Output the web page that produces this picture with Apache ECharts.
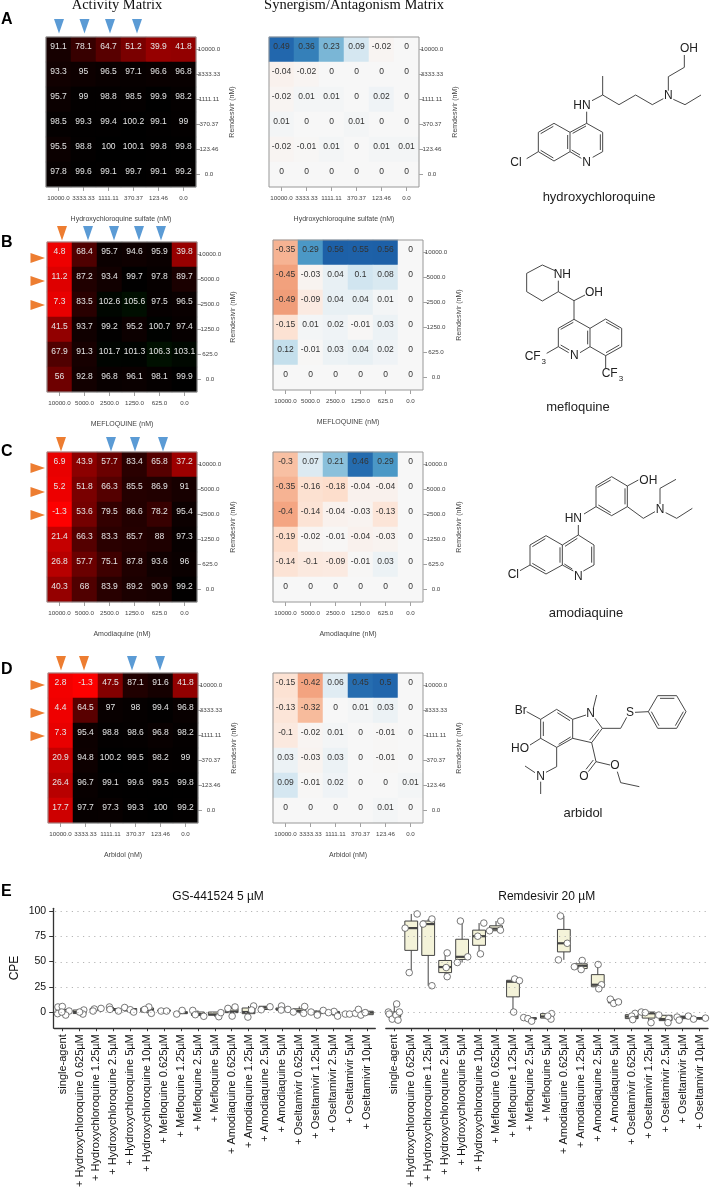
<!DOCTYPE html>
<html><head><meta charset="utf-8">
<style>html,body{margin:0;padding:0;background:#fff}#c{width:713px;height:1190px}</style>
<script src="https://cdn.jsdelivr.net/npm/echarts@6/dist/echarts.min.js"></script>
</head><body><div id="c"></div>
<script>
const dosesRem3 = ['10000.0','3333.33','1111.11','370.37','123.46','0.0'];
const dosesMef = ['10000.0','5000.0','2500.0','1250.0','625.0','0.0'];

const activityA = [[91.1,78.1,64.7,51.2,39.9,41.8],[93.3,95,96.5,97.1,96.6,96.8],[95.7,99,98.8,98.5,99.9,98.2],[98.5,99.3,99.4,100.2,99.1,99],[95.5,98.8,100,100.1,99.8,99.8],[97.8,99.6,99.1,99.7,99.1,99.2]];
const synergyA = [[0.49,0.36,0.23,0.09,-0.02,0],[-0.04,-0.02,0,0,0,0],[-0.02,0.01,0.01,0,0.02,0],[0.01,0,0,0.01,0,0],[-0.02,-0.01,0.01,0,0.01,0.01],[0,0,0,0,0,0]];
const activityB = [[4.8,68.4,95.7,94.6,95.9,39.8],[11.2,87.2,93.4,99.7,97.8,89.7],[7.3,83.5,102.6,105.6,97.5,96.5],[41.5,93.7,99.2,95.2,100.7,97.4],[67.9,91.3,101.7,101.3,106.3,103.1],[56,92.8,96.8,96.1,98.1,99.9]];
const synergyB = [[-0.35,0.29,0.56,0.55,0.56,0],[-0.45,-0.03,0.04,0.1,0.08,0],[-0.49,-0.09,0.04,0.04,0.01,0],[-0.15,0.01,0.02,-0.01,0.03,0],[0.12,-0.01,0.03,0.04,0.02,0],[0,0,0,0,0,0]];
const activityC = [[6.9,43.9,57.7,83.4,65.8,37.2],[5.2,51.8,66.3,85.5,86.9,91],[-1.3,53.6,79.5,86.6,78.2,95.4],[21.4,66.3,83.3,85.7,88,97.3],[26.8,57.7,75.1,87.8,93.6,96],[40.3,68,83.9,89.2,90.9,99.2]];
const synergyC = [[-0.3,0.07,0.21,0.46,0.29,0],[-0.35,-0.16,-0.18,-0.04,-0.04,0],[-0.4,-0.14,-0.04,-0.03,-0.13,0],[-0.19,-0.02,-0.01,-0.04,-0.03,0],[-0.14,-0.1,-0.09,-0.01,0.03,0],[0,0,0,0,0,0]];
const activityD = [[2.8,-1.3,47.5,87.1,91.6,41.8],[4.4,64.5,97,98,99.4,96.8],[7.3,95.4,98.8,98.6,96.8,98.2],[20.9,94.8,100.2,99.5,98.2,99],[26.4,96.7,99.1,99.6,99.5,99.8],[17.7,97.7,97.3,99.3,100,99.2]];
const synergyD = [[-0.15,-0.42,0.06,0.45,0.5,0],[-0.13,-0.32,0,0.01,0.03,0],[-0.1,-0.02,0.01,0,-0.01,0],[0.03,-0.03,0.03,0,-0.01,0],[0.09,-0.01,0.02,0,0,0.01],[0,0,0,0,0.01,0]];

const cpeCategories = ['single-agent','+ Hydroxychloroquine 0.625µM','+ Hydroxychloroquine 1.25µM','+ Hydroxychloroquine 2.5µM','+ Hydroxychloroquine 5µM','+ Hydroxychloroquine 10µM','+ Mefloquine 0.625µM','+ Mefloquine 1.25µM','+ Mefloquine 2.5µM','+ Mefloquine 5µM','+ Amodiaquine 0.625µM','+ Amodiaquine 1.25µM','+ Amodiaquine 2.5µM','+ Amodiaquine 5µM','+ Oseltamivir 0.625µM','+ Oseltamivir 1.25µM','+ Oseltamivir 2.5µM','+ Oseltamivir 5µM','+ Oseltamivir 10µM'];
const cpeTicks = [0,25,50,75,100];

// [min, q1, median, q3, max]
const gsBoxes = [[-3,-1,0.5,2.5,5.5],[-2,-1.5,0,2,2],[1,2,3,3.4,3.6],[1,1.5,2.5,3.5,5],[0,1,2.5,3.5,4.5],[-1.3,0,2,4,5],[1,1.2,1.4,1.8,2],[-2,-1.6,-0.6,0.3,1.6],[-4.2,-3.4,-2,0,1.6],[-4.6,-3,-2.4,0,-0.6],[-4,-0.6,0.6,3.6,5],[-5,-1.6,0,4,6],[2.3,2.5,4.4,5.7,5.7],[2,2,2.6,4,6],[-1.3,0,1.2,3.2,5.5],[-3,-1.6,-0.5,1,1.6],[-4,-2.4,-1,0.6,0.6],[-2,-2.6,-2,-1.3,-1.3],[-3,-2.6,-0.6,0.8,2.6]];
const gsPoints = [
  [[-0.28,5],[-0.02,5.5],[-0.3,-1.6],[0.38,1],[0.18,-3],[-0.05,0]],
  [[0.25,2],[0.2,-2],[0,0]],
  [[-0.13,3],[0.27,3.6],[-0.2,1]],
  [[-0.23,5],[-0.2,2.6],[0.3,1]],
  [[-0.33,4.5],[0,2.3],[0.2,0]],
  [[0.1,5],[-0.15,2.6],[0.25,-1.3]],
  [[-0.17,1],[0.15,1]],
  [[-0.25,-2],[0.07,1.6]],
  [[-0.3,1.6],[-0.15,-2.6],[0.35,-4.2]],
  [[0.24,-4.6],[0.36,-0.6]],
  [[-0.22,3.6],[0.2,5],[0.03,-4]],
  [[0.3,6],[0.18,2],[-0.04,-5]],
  [[-0.25,2.3],[0.27,5.2]],
  [[-0.05,6],[-0.07,2],[0.33,2.6]],
  [[-0.35,0],[0.32,5.5],[0.26,-1.3]],
  [[-0.3,0],[0.07,-3],[0.42,1.6]],
  [[0.06,0.6],[-0.27,-0.6],[0.27,-4]],
  [[-0.27,-2],[-0.02,-2],[0.33,-1.3]],
  [[-0.5,2.6],[-0.35,-3],[-0.1,-0.6]]
];
const rdvBoxes = [[-8,-5,-2,0,8],[39,61,83,90,97],[26,56,87,90,92],[35,39,44.5,51,58.5],[49,52,54.6,72,90],[57.5,66,75,81,88],[80.4,80.4,82.4,85.3,90],[0,15,30,31.4,32.7],[-9,-7,-6.5,-5.5,-5.5],[-7,-6,-4.4,-1.6,-1.6],[51.6,59.5,68,81.7,95],[42,43,45.7,47.7,51],[23,25,27,37,47],[8.5,9,10,11.5,12.7],[-7.5,-6.5,-4.5,-2.6,-1.3],[-10.5,-6,-1.3,0,0],[-10.5,-8.5,-7,-3.2,-3],[-8,-6.5,-5,-4,-4],[-7.5,-7,-6,-5.5,-5.5]];
const rdvPoints = [
  [[0.14,8],[-0.35,0],[-0.3,-2],[-0.12,-7],[0.1,-3],[0.22,-8],[0.3,0]],
  [[0.35,97],[-0.36,83],[-0.12,39]],
  [[0.22,92],[-0.3,87],[0.22,26]],
  [[0.12,58.5],[0.06,44],[0.12,35]],
  [[-0.1,90],[0.33,54.6],[-0.28,49]],
  [[0.28,88],[-0.08,75],[0.08,57.5]],
  [[0.28,90],[-0.38,80.4],[0.26,81]],
  [[0.1,32.7],[0.38,31],[0.04,0]],
  [[-0.37,-5.5],[-0.12,-6.5],[0.1,-9]],
  [[0.28,-1.6],[0.24,-7],[0.05,-4]],
  [[-0.2,95],[0.2,68],[-0.32,51.6]],
  [[-0.38,44.8],[0.08,51],[0.02,42]],
  [[0.02,47],[0.22,27],[0.06,23]],
  [[-0.26,12.7],[-0.06,8.5],[0.22,10]],
  [[0.2,-1.3],[0,-4],[0.06,-7.5]],
  [[-0.43,0],[-0.2,-0.6],[0.14,-10.5]],
  [[-0.4,-3],[0.18,-6.5],[0.14,-10.5]],
  [[-0.32,-5],[-0.2,-8],[0.34,-4]],
  [[-0.35,-7],[0.35,-6]]
];

const rowsSpec = [
  {act:activityA,syn:synergyA,x:dosesRem3,y:dosesRem3,name:'Hydroxychloroquine sulfate (nM)',gl:[46,37],gr:[269,37]},
  {act:activityB,syn:synergyB,x:dosesMef,y:dosesMef,name:'MEFLOQUINE (nM)',gl:[47,242],gr:[273,240]},
  {act:activityC,syn:synergyC,x:dosesMef,y:dosesMef,name:'Amodiaquine (nM)',gl:[47,452],gr:[273,452]},
  {act:activityD,syn:synergyD,x:dosesRem3,y:dosesRem3,name:'Arbidol (nM)',gl:[48,673],gr:[273,673]}
];
const MATRIX_SIZE=150;

const grid=[],xAxis=[],yAxis=[],series=[],actIdx=[],synIdx=[];
function heat(mat,xs,ys,name,box,labelColor,bucket){
  const g=grid.length;
  grid.push({left:box[0],top:box[1],width:MATRIX_SIZE,height:MATRIX_SIZE,show:true,z:3,borderColor:'#999',borderWidth:1,backgroundColor:'transparent'});
  xAxis.push({type:'category',gridIndex:g,data:xs,name:name,nameLocation:'middle',nameGap:28.5,nameTextStyle:{fontSize:7,color:'#444',fontFamily:'Liberation Sans'},
    axisLine:{show:false,onZero:false},axisTick:{show:true,length:4,alignWithLabel:true,lineStyle:{color:'#888',width:.8}},
    axisLabel:{interval:0,fontSize:6.2,color:'#444',margin:8,fontFamily:'Liberation Sans',hideOverlap:false},splitLine:{show:false},splitArea:{show:false}});
  yAxis.push({type:'category',gridIndex:g,data:ys,inverse:true,position:'right',name:'Remdesivir (nM)',nameLocation:'middle',nameGap:33,nameRotate:90,nameTextStyle:{fontSize:7,color:'#444',fontFamily:'Liberation Sans'},
    axisLine:{show:false},axisTick:{show:true,length:4,alignWithLabel:true,lineStyle:{color:'#888',width:.8}},
    axisLabel:{interval:0,fontSize:6.2,color:'#444',margin:13,align:'center',fontFamily:'Liberation Sans'},splitLine:{show:false},splitArea:{show:false}});
  const data=[];
  mat.forEach((row,r)=>row.forEach((v,c)=>data.push([c,r,v])));
  bucket.push(series.length);
  series.push({type:'heatmap',xAxisIndex:g,yAxisIndex:g,data,silent:true,progressive:0,
    label:{show:true,fontSize:8.5,color:labelColor,offset:[0,-2.5],fontFamily:'Liberation Sans',formatter:p=>String(p.value[2])},
    itemStyle:{borderWidth:0},emphasis:{disabled:true}});
}
rowsSpec.forEach(s=>{
  heat(s.act,s.x,s.y,s.name,s.gl,'#e4e4e4',actIdx);
  heat(s.syn,s.x,s.y,s.name,s.gr,'#333',synIdx);
});

/* Panel E */
const yMin=-16,yMax=102.6,eTop=908.3,eBottom=1029;
function panelE(left,right,boxes,points,showY){
  const g=grid.length;
  grid.push({left:left,top:eTop,width:right-left,height:eBottom-eTop,show:false});
  const ci=xAxis.length;
  xAxis.push({type:'category',gridIndex:g,data:cpeCategories,position:'bottom',
    axisLine:{show:true,onZero:false,lineStyle:{color:'#333',width:1.3}},axisTick:{show:true,alignWithLabel:true,length:3,lineStyle:{color:'#333',width:1}},
    axisLabel:{interval:0,rotate:90,fontSize:11,color:'#111',margin:6,fontFamily:'Liberation Sans',hideOverlap:false},splitLine:{show:false}});
  const vi=xAxis.length;
  xAxis.push({type:'value',gridIndex:g,min:-0.5,max:18.5,show:false,splitLine:{show:false}});
  yAxis.push({type:'value',gridIndex:g,min:yMin,max:yMax,show:showY,offset:1,
    axisLine:{show:true,onZero:false,lineStyle:{color:'#333',width:1.3}},
    axisTick:{show:true,length:4,customValues:cpeTicks,lineStyle:{color:'#333',width:1}},
    axisLabel:{fontSize:10.5,color:'#111',margin:7,customValues:cpeTicks,fontFamily:'Liberation Sans'},splitLine:{show:false}});
  series.push({type:'custom',xAxisIndex:ci,yAxisIndex:g,z:3,silent:true,clip:false,
    encode:{x:0,y:[1,2,3,4,5]},
    data:boxes.map((b,i)=>[i].concat(b)),
    renderItem(params,api){
      const i=api.value(0);
      const p=k=>api.coord([i,api.value(k)]);
      const lo=p(1),q1=p(2),med=p(3),q3=p(4),hi=p(5),w=6.4,cx=lo[0];
      const ln=(x1,y1,x2,y2,lw)=>({type:'line',shape:{x1,y1,x2,y2},style:{stroke:'#444',lineWidth:lw,fill:null}});
      return {type:'group',children:[
        ln(cx,hi[1],cx,lo[1],1),
        {type:'rect',shape:{x:cx-w,y:q3[1],width:2*w,height:q1[1]-q3[1]},style:{fill:'#f4f3d9',stroke:'#444',lineWidth:1}},
        ln(cx-w,med[1],cx+w,med[1],2.2)
      ]};
    }});
  const pts=[];
  points.forEach((list,i)=>list.forEach(p=>pts.push([i+p[0],p[1]])));
  series.push({type:'scatter',xAxisIndex:vi,yAxisIndex:g,z:4,silent:true,clip:false,data:pts,symbol:'circle',symbolSize:6.6,
    itemStyle:{color:'#fff',borderColor:'#555',borderWidth:.8,opacity:1},emphasis:{disabled:true}});
}
// dotted reference lines run through both facets
(function(){
  const g=grid.length;
  grid.push({left:55,top:eTop,width:653,height:eBottom-eTop,show:false});
  xAxis.push({type:'value',gridIndex:g,min:0,max:1,show:false,splitLine:{show:false}});
  yAxis.push({type:'value',gridIndex:g,min:yMin,max:yMax,show:false,splitLine:{show:false}});
  series.push({type:'line',xAxisIndex:xAxis.length-1,yAxisIndex:g,z:1,silent:true,data:[[0,0]],showSymbol:false,lineStyle:{width:0},
    markLine:{silent:true,symbol:'none',animation:false,label:{show:false},lineStyle:{color:'#b5b5b5',width:1,type:[1.2,4.4]},data:cpeTicks.map(v=>({yAxis:v}))}});
})();
panelE(54.2,375.3,gsBoxes,gsPoints,true);
panelE(385.8,708,rdvBoxes,rdvPoints,false);

/* Annotations */
const BLUE='#5b9bd5',ORANGE='#ed7d31';
const downArrows=[
  {top:19,c:BLUE,xs:[59,84.5,110,137]},
  {top:226,c:ORANGE,xs:[62]},{top:226,c:BLUE,xs:[88,114,139,161]},
  {top:437,c:ORANGE,xs:[61]},{top:437,c:BLUE,xs:[111,135,163]},
  {top:656,c:ORANGE,xs:[61,84]},{top:656,c:BLUE,xs:[132,160]}
];
const leftArrows=[258,281,305,468,492,515,685,713,736];
const graphic=[];
downArrows.forEach(g=>g.xs.forEach(x=>graphic.push({type:'polygon',silent:true,shape:{points:[[x-5,g.top],[x+5,g.top],[x,g.top+14.5]]},style:{fill:g.c}})));
leftArrows.forEach(y=>graphic.push({type:'polygon',silent:true,shape:{points:[[30.5,y-5],[30.5,y+5],[45,y]]},style:{fill:ORANGE}}));
function txt(text,x,y,font,fill,align,rot){
  graphic.push({type:'text',silent:true,x,y,rotation:rot||0,style:{text,x:0,y:0,font,fill:fill||'#222',textAlign:align||'center',textVerticalAlign:'middle'}});
}
[['A',20],['B',243],['C',452],['D',670],['E',892]].forEach(a=>txt(a[0],1,a[1],'bold 16px "Liberation Sans"','#000','left'));
txt('Activity Matrix',117,5,'14.5px "Liberation Serif"','#111');
txt('Synergism/Antagonism Matrix',354,5,'14.5px "Liberation Serif"','#111');
txt('GS-441524 5 µM',218,897,'12px "Liberation Sans"','#111');
txt('Remdesivir 20 µM',546.7,897,'12px "Liberation Sans"','#111');
txt('CPE',14.7,968,'12px "Liberation Sans"','#111','center',Math.PI/2);
txt('hydroxychloroquine',599,197,'13px "Liberation Sans"','#222');
txt('mefloquine',578,407,'13px "Liberation Sans"','#222');
txt('amodiaquine',586,613,'13px "Liberation Sans"','#222');
txt('arbidol',583,813,'13px "Liberation Sans"','#222');

/* Structure drawings: coordinates in thirds of a pixel from each origin */
function mol(ox,oy,bonds,atoms){
  bonds.forEach(b=>graphic.push({type:'polyline',silent:true,shape:{points:b.map(p=>[ox+p[0]/3,oy+p[1]/3])},style:{stroke:'#333',lineWidth:.9,fill:null}}));
  atoms.forEach(a=>txt(a[0],ox+a[1]/3,oy+a[2]/3,(a[3]||12)+'px "Liberation Sans"','#222'));
}
mol(520,0,[
 [[55,397],[102,370],[150,397],[150,455],[102,483],[55,455],[55,397]],
 [[150,397],[200,370],[248,397],[248,455],[218,472]],[[150,455],[184,475]],
 [[62,401],[100,379]],[[62,451],[100,474]],[[143,405],[143,447]],[[158,400],[198,378]],[[241,403],[241,450]],[[155,450],[180,465]],
 [[55,455],[20,476]],[[200,335],[200,370]],
 [[216,302],[248,285],[297,314],[347,285],[397,314],[430,296]],[[248,285],[248,228]],
 [[445,272],[445,230],[493,202],[493,165]],[[460,298],[495,314],[543,285]]
],[['OH',507,146],['N',445,288],['HN',186,316],['N',200,487],['Cl',-12,487]]);
mol(520,230,[
 [[20,130],[67,105],[105,122]],[[20,130],[20,185],[67,213],[115,185],[115,152]],[[115,185],[162,212],[195,195]],[[162,212],[162,268]],
 [[162,268],[210,295],[210,350],[180,368]],[[146,368],[115,350],[115,295],[162,268]],[[122,298],[160,277]],[[203,302],[203,343]],[[122,345],[148,360]],
 [[210,295],[257,267],[305,295],[305,350],[257,377],[210,350]],[[258,276],[298,298]],[[298,345],[258,368]],
 [[257,377],[257,415]],[[115,350],[80,370]]
],[['NH',127,135],['OH',222,187],['N',163,378],['CF',38,380],['3',71,394,8],['CF',269,432],['3',303,446,8]]);
mol(520,230,[
 [[275,740],[322,768],[322,830],[275,857],[228,830],[228,768],[275,740]],[[233,772],[272,750]],[[315,775],[315,823]],[[235,825],[272,848]],
 [[322,768],[355,750]],[[322,830],[370,865],[405,845]],[[420,822],[420,775],[468,748]],[[437,848],[470,865],[517,835]],
 [[228,830],[192,852]],[[175,885],[175,915]],
 [[175,915],[222,945],[222,1005],[190,1023]],[[160,1023],[127,1005],[127,945],[175,915]],[[135,949],[172,925]],[[215,950],[215,998]],[[133,1002],[157,1017]],
 [[127,945],[78,917],[30,945],[30,1005],[78,1032],[127,1005]],[[37,950],[76,926]],[[37,1000],[76,1023]],[[120,952],[120,998]],
 [[30,1005],[0,1022]]
],[['OH',385,752],['N',420,838],['HN',160,865],['N',175,1040],['Cl',-20,1035]]);
mol(520,660,[
 [[62,178],[110,148],[158,178],[158,235],[110,262],[62,235],[62,178]],[[70,185],[70,228]],[[112,158],[150,182]],[[116,253],[152,231]],
 [[158,178],[198,165]],[[220,145],[230,105]],[[225,175],[247,205],[215,248],[158,235]],[[236,208],[209,240]],
 [[247,205],[302,205],[320,172]],[[345,157],[385,155]],
 [[385,155],[413,107],[470,107],[498,155],[470,205],[413,205],[385,155]],[[420,115],[463,115]],[[490,155],[466,197]],[[417,197],[394,155]],
 [[215,248],[228,305],[205,335]],[[220,300],[198,328]],[[228,305],[270,315]],[[292,335],[302,368],[358,380]],
 [[110,262],[110,320],[78,337]],[[45,338],[15,318]],[[62,365],[62,402]],
 [[62,235],[30,255]],[[62,178],[20,155]]
],[['Br',2,152],['HO',0,265],['N',212,160],['S',330,158],['O',192,350],['O',285,318],['N',62,350]]);

const chart=echarts.init(document.getElementById('c'),null,{renderer:'canvas'});
chart.setOption({
  animation:false,backgroundColor:'#fff',textStyle:{fontFamily:'Liberation Sans'},tooltip:{show:false},
  grid,xAxis,yAxis,series,graphic:{elements:graphic},
  visualMap:[
    {type:'continuous',show:false,min:-2,max:202,dimension:2,seriesIndex:actIdx,inRange:{color:['#ff0000','#000000','#00ff00']}},
    {type:'continuous',show:false,min:-0.6,max:0.6,dimension:2,seriesIndex:synIdx,inRange:{color:['#e8896a','#f09c78','#f4a582','#f8c0a3','#fddbc7','#fbe9df','#f7f7f7','#d1e5f0','#92c5de','#4393c3','#2b74b3','#2166ac','#1b5ca3']}}
  ]
});
</script></body></html>
